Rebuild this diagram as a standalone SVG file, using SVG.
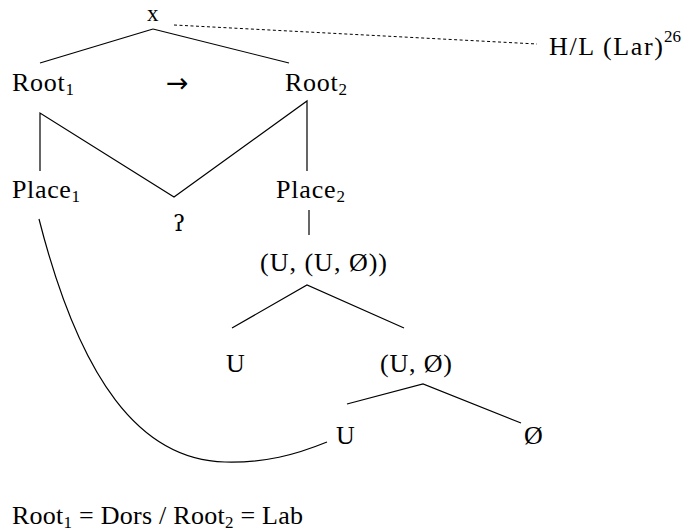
<svg xmlns="http://www.w3.org/2000/svg" width="685" height="531" viewBox="0 0 685 531">
  <style>
    text { font-family: "Liberation Serif", "DejaVu Serif", serif; font-size: 26px; fill: #000; }
    .sub { font-size: 17px; }
    .edge { fill: none; stroke: #000; stroke-width: 1.2; }
    .dash { fill: none; stroke: #000; stroke-width: 1; stroke-dasharray: 3 2.5; }
  </style>
  <rect width="685" height="531" fill="#fff"/>

  <!-- connectors -->
  <g id="connectors">
    <line class="edge" x1="153" y1="29" x2="40" y2="63"/>
    <line class="edge" x1="153" y1="29" x2="289" y2="63"/>
    <line class="dash" x1="174" y1="25" x2="537" y2="44"/>
    <polyline class="edge" points="40,171 40,113 174,197 307,101 307,171"/>
    <line class="edge" x1="309" y1="210" x2="309" y2="235"/>
    <polyline class="edge" points="232,328 307,285 404,328"/>
    <polyline class="edge" points="347,404 423,384 521,423"/>
    <path class="edge" d="M39,219 C80,380 140,460 225,462 C265,463 295,455 327,442"/>
  </g>

  <!-- nodes -->
  <g id="node-x"><text x="147" y="20.5" style="font-size:23px">x</text></g>
  <g id="node-laryngeal"><text x="549" y="55" textLength="114" lengthAdjust="spacing">H/L (Lar)</text><text class="sub" x="664" y="42">26</text></g>
  <g id="node-root1"><text x="12" y="91" textLength="62" lengthAdjust="spacing">Root<tspan class="sub" dy="4">1</tspan></text></g>
  <g id="node-arrow"><text x="166" y="92" style="font-family:'DejaVu Sans',sans-serif;font-size:27px">→</text></g>
  <g id="node-root2"><text x="285" y="91" textLength="62" lengthAdjust="spacing">Root<tspan class="sub" dy="4">2</tspan></text></g>
  <g id="node-place1"><text x="12" y="198" textLength="68" lengthAdjust="spacing">Place<tspan class="sub" dy="4">1</tspan></text></g>
  <g id="node-glottal"><text x="173" y="231" style="font-family:'DejaVu Serif',serif;font-size:23px">ʔ</text></g>
  <g id="node-place2"><text x="276" y="198" textLength="69" lengthAdjust="spacing">Place<tspan class="sub" dy="4">2</tspan></text></g>
  <g id="node-uuo"><text x="260" y="271" textLength="127" lengthAdjust="spacing">(U, (U, Ø))</text></g>
  <g id="node-u1"><text x="226" y="372">U</text></g>
  <g id="node-uo"><text x="380" y="372" textLength="72" lengthAdjust="spacing">(U, Ø)</text></g>
  <g id="node-u2"><text x="336" y="444">U</text></g>
  <g id="node-empty"><text x="524" y="444">Ø</text></g>

  <g id="legend"><text x="12" y="524" textLength="291" lengthAdjust="spacing">Root<tspan class="sub" dy="4">1</tspan><tspan dy="-4"> = Dors / Root</tspan><tspan class="sub" dy="4">2</tspan><tspan dy="-4"> = Lab</tspan></text></g>
</svg>
